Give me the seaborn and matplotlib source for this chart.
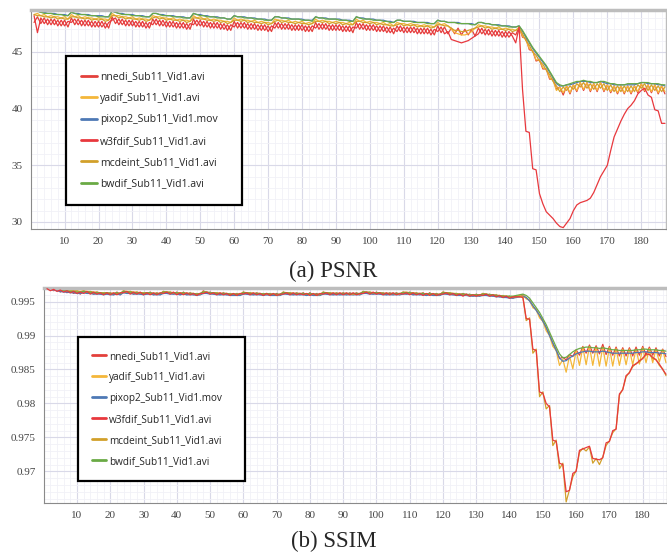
import numpy as np
import pandas as pd
import matplotlib
matplotlib.use("Agg")
import matplotlib.pyplot as plt
from matplotlib.lines import Line2D
from matplotlib.ticker import MultipleLocator, FuncFormatter
import seaborn as sns

frames = list(range(1, 188))
series_names = ["nnedi_Sub11_Vid1.avi", "yadif_Sub11_Vid1.avi", "pixop2_Sub11_Vid1.mov",
                "w3fdif_Sub11_Vid1.avi", "mcdeint_Sub11_Vid1.avi", "bwdif_Sub11_Vid1.avi"]
colors = ["#e3403b", "#f4b73a", "#4e79b5", "#e8383d", "#d2a02a", "#6aaa45"]
x_ticks = [10, 20, 30, 40, 50, 60, 70, 80, 90, 100, 110, 120, 130, 140, 150, 160, 170, 180]
captions = ["(a) PSNR", "(b) SSIM"]

# ---------------- PSNR (dB) ----------------
psnr_pixop2 = [
    48.6, 48.6, 48.5, 48.5, 48.4, 48.4, 48.4, 48.3, 48.3, 48.3, 48.2,
    48.5, 48.4, 48.4, 48.3, 48.3, 48.3, 48.2, 48.2, 48.2, 48.2, 48.1, 48.1,
    48.6, 48.5, 48.4, 48.4, 48.3, 48.3, 48.3, 48.2, 48.2, 48.2, 48.1, 48.1,
    48.4, 48.4, 48.3, 48.3, 48.2, 48.2, 48.2, 48.1, 48.1, 48.1, 48.0, 48.0,
    48.4, 48.3, 48.3, 48.2, 48.2, 48.1, 48.1, 48.1, 48.0, 48.0, 47.9, 47.9,
    48.2, 48.1, 48.1, 48.1, 48.0, 48.0, 48.0, 47.9, 47.9, 47.9, 47.8, 47.8,
    48.1, 48.1, 48.0, 48.0, 48.0, 47.9, 47.9, 47.9, 47.9, 47.8, 47.8, 47.8,
    48.1, 48.0, 48.0, 48.0, 47.9, 47.9, 47.9, 47.9, 47.8, 47.8, 47.8, 47.7,
    48.1, 48.0, 48.0, 47.9, 47.9, 47.9, 47.8, 47.8, 47.8, 47.7, 47.7, 47.6,
    47.8, 47.8, 47.7, 47.7, 47.7, 47.7, 47.6, 47.6, 47.6, 47.6, 47.5, 47.5,
    47.8, 47.7, 47.7, 47.6, 47.6, 47.6, 47.6, 47.5, 47.5, 47.5, 47.5, 47.4,
    47.6, 47.6, 47.5, 47.5, 47.4, 47.4, 47.4, 47.3, 47.3, 47.3, 47.2, 47.2,
    47.3, 46.8, 46.3, 45.8, 45.3, 44.9, 44.5, 44.1, 43.7, 43.2, 42.7, 42.2,
    42.0, 42.0, 42.1, 42.1, 42.2, 42.3, 42.4, 42.4, 42.4, 42.3, 42.3, 42.3,
    42.4, 42.3, 42.2, 42.2, 42.1, 42.1, 42.1, 42.1, 42.1, 42.1, 42.1, 42.2,
    42.3, 42.3, 42.2, 42.2, 42.2, 42.1, 42.1, 42.0]
psnr_bwdif = [
    48.6, 48.6, 48.5, 48.4, 48.4, 48.4, 48.3, 48.3, 48.3, 48.2, 48.2,
    48.5, 48.4, 48.3, 48.3, 48.3, 48.2, 48.2, 48.2, 48.1, 48.1, 48.1, 48.1,
    48.6, 48.5, 48.4, 48.3, 48.3, 48.3, 48.2, 48.2, 48.2, 48.1, 48.1, 48.1,
    48.4, 48.4, 48.3, 48.2, 48.2, 48.2, 48.1, 48.1, 48.1, 48.0, 48.0, 48.0,
    48.4, 48.3, 48.2, 48.2, 48.1, 48.1, 48.1, 48.0, 48.0, 48.0, 47.9, 47.9,
    48.2, 48.1, 48.1, 48.0, 48.0, 48.0, 47.9, 47.9, 47.9, 47.8, 47.8, 47.8,
    48.1, 48.1, 48.0, 48.0, 47.9, 47.9, 47.9, 47.9, 47.8, 47.8, 47.8, 47.7,
    48.1, 48.0, 48.0, 47.9, 47.9, 47.9, 47.9, 47.8, 47.8, 47.8, 47.7, 47.7,
    48.1, 48.0, 47.9, 47.9, 47.9, 47.8, 47.8, 47.8, 47.7, 47.7, 47.6, 47.6,
    47.8, 47.8, 47.7, 47.7, 47.7, 47.6, 47.6, 47.6, 47.6, 47.5, 47.5, 47.5,
    47.8, 47.7, 47.7, 47.6, 47.6, 47.6, 47.5, 47.5, 47.5, 47.5, 47.4, 47.4,
    47.6, 47.6, 47.5, 47.5, 47.4, 47.4, 47.3, 47.3, 47.3, 47.2, 47.2, 47.2,
    47.3, 46.9, 46.4, 45.9, 45.4, 45.0, 44.6, 44.2, 43.8, 43.3, 42.8, 42.3,
    42.1, 42.0, 42.1, 42.2, 42.3, 42.4, 42.4, 42.5, 42.4, 42.4, 42.3, 42.3,
    42.4, 42.4, 42.3, 42.2, 42.2, 42.1, 42.1, 42.1, 42.2, 42.2, 42.2, 42.2,
    42.3, 42.3, 42.3, 42.2, 42.2, 42.2, 42.1, 42.1]
psnr_yadif = [
    48.3, 48.4, 48.2, 48.3, 48.1, 48.2, 48.1, 48.1, 48.0, 48.1, 47.9,
    48.3, 48.1, 48.2, 48.0, 48.1, 48.0, 48.0, 47.9, 48.0, 47.9, 47.9, 47.8,
    48.4, 48.2, 48.2, 48.1, 48.1, 48.0, 48.1, 47.9, 48.0, 47.9, 47.9, 47.8,
    48.2, 48.1, 48.1, 48.0, 48.0, 47.9, 48.0, 47.8, 47.9, 47.8, 47.8, 47.7,
    48.2, 48.0, 48.1, 47.9, 48.0, 47.8, 47.9, 47.8, 47.8, 47.7, 47.7, 47.6,
    48.0, 47.8, 47.9, 47.8, 47.8, 47.7, 47.8, 47.6, 47.7, 47.6, 47.6, 47.5,
    47.9, 47.8, 47.8, 47.7, 47.8, 47.6, 47.7, 47.6, 47.7, 47.5, 47.6, 47.5,
    47.9, 47.7, 47.8, 47.7, 47.7, 47.6, 47.7, 47.6, 47.6, 47.5, 47.6, 47.4,
    47.9, 47.7, 47.8, 47.6, 47.7, 47.6, 47.6, 47.5, 47.6, 47.4, 47.5, 47.3,
    47.6, 47.5, 47.5, 47.4, 47.5, 47.4, 47.4, 47.3, 47.4, 47.3, 47.3, 47.2,
    47.6, 47.4, 47.5, 47.3, 47.0, 46.7, 46.6, 46.5, 46.5, 46.6, 46.8, 47.1,
    47.4, 47.3, 47.3, 47.2, 47.2, 47.1, 47.2, 47.0, 47.1, 47.0, 47.0, 46.9,
    47.2, 46.4, 46.1, 45.3, 45.1, 44.3, 44.3, 43.6, 43.5, 42.7, 42.5, 41.6,
    41.9, 41.4, 42.0, 41.4, 42.1, 41.6, 42.3, 41.7, 42.3, 41.6, 42.2, 41.6,
    42.3, 41.6, 42.1, 41.5, 42.0, 41.4, 42.0, 41.4, 42.0, 41.4, 42.0, 41.5,
    42.2, 41.6, 42.1, 41.5, 42.1, 41.4, 42.0, 41.5]
psnr_mcdeint = [
    48.3, 48.2, 48.2, 48.1, 48.1, 48.0, 48.1, 47.9, 48.0, 47.9, 47.9,
    48.1, 48.1, 48.0, 48.0, 47.9, 48.0, 47.8, 47.9, 47.8, 47.9, 47.7, 47.8,
    48.2, 48.2, 48.0, 48.1, 47.9, 48.0, 47.9, 47.9, 47.8, 47.9, 47.7, 47.8,
    48.0, 48.1, 47.9, 48.0, 47.8, 47.9, 47.8, 47.8, 47.7, 47.8, 47.6, 47.7,
    48.0, 48.0, 47.9, 47.9, 47.8, 47.8, 47.7, 47.8, 47.6, 47.7, 47.5, 47.6,
    47.8, 47.8, 47.7, 47.8, 47.6, 47.7, 47.6, 47.6, 47.5, 47.6, 47.4, 47.5,
    47.7, 47.8, 47.6, 47.7, 47.6, 47.6, 47.5, 47.6, 47.5, 47.5, 47.4, 47.5,
    47.7, 47.7, 47.6, 47.7, 47.5, 47.6, 47.5, 47.6, 47.4, 47.5, 47.4, 47.4,
    47.7, 47.7, 47.6, 47.6, 47.5, 47.6, 47.4, 47.5, 47.4, 47.4, 47.3, 47.3,
    47.4, 47.5, 47.3, 47.4, 47.3, 47.4, 47.2, 47.3, 47.2, 47.3, 47.1, 47.2,
    47.4, 47.4, 47.3, 47.3, 47.1, 46.9, 46.9, 46.8, 46.8, 46.9, 47.0, 47.1,
    47.2, 47.3, 47.1, 47.2, 47.0, 47.1, 47.0, 47.0, 46.9, 47.0, 46.8, 46.9,
    47.1, 46.6, 46.0, 45.6, 45.0, 44.7, 44.2, 43.9, 43.4, 43.0, 42.4, 42.0,
    41.5, 41.9, 41.6, 42.0, 41.7, 42.2, 41.9, 42.3, 41.8, 42.2, 41.7, 42.2,
    41.8, 42.2, 41.6, 42.1, 41.5, 42.0, 41.5, 42.0, 41.5, 42.0, 41.5, 42.1,
    41.8, 42.2, 41.6, 42.1, 41.6, 42.0, 41.5, 41.9]
psnr_nnedi = [
    47.6, 48.1, 47.5, 48.0, 47.4, 47.9, 47.4, 47.8, 47.3, 47.8, 47.2,
    48.0, 47.4, 47.9, 47.3, 47.8, 47.3, 47.7, 47.2, 47.7, 47.2, 47.6, 47.1,
    48.1, 47.5, 47.9, 47.4, 47.8, 47.3, 47.8, 47.2, 47.7, 47.2, 47.6, 47.1,
    47.9, 47.4, 47.8, 47.3, 47.7, 47.2, 47.7, 47.1, 47.6, 47.1, 47.5, 47.0,
    47.9, 47.3, 47.8, 47.2, 47.7, 47.1, 47.6, 47.1, 47.5, 47.0, 47.4, 46.9,
    47.7, 47.1, 47.6, 47.1, 47.5, 47.0, 47.5, 46.9, 47.4, 46.9, 47.3, 46.8,
    47.6, 47.1, 47.5, 47.0, 47.5, 46.9, 47.4, 46.9, 47.4, 46.8, 47.3, 46.8,
    47.6, 47.0, 47.5, 47.0, 47.4, 46.9, 47.4, 46.9, 47.3, 46.8, 47.3, 46.7,
    47.6, 47.0, 47.5, 46.9, 47.4, 46.9, 47.3, 46.8, 47.3, 46.7, 47.2, 46.6,
    47.3, 46.8, 47.2, 46.7, 47.2, 46.7, 47.1, 46.6, 47.1, 46.6, 47.0, 46.5,
    47.3, 46.7, 47.2, 46.6, 47.1, 46.6, 47.1, 46.5, 47.0, 46.5, 47.0, 46.4,
    47.1, 46.6, 47.0, 46.5, 46.9, 46.4, 46.9, 46.3, 46.8, 46.3, 46.7, 46.5,
    47.2, 46.3, 46.2, 45.2, 45.1, 44.2, 44.3, 43.5, 43.5, 42.6, 42.6, 41.7,
    41.9, 41.2, 42.0, 41.3, 42.1, 41.5, 42.3, 41.6, 42.3, 41.5, 42.2, 41.5,
    42.3, 41.5, 42.1, 41.4, 42.0, 41.3, 42.0, 41.3, 42.0, 41.3, 42.0, 41.4,
    42.2, 41.5, 42.1, 41.4, 42.1, 41.3, 42.0, 41.3]
psnr_w3fdif = [
    48.2, 46.7, 48.0, 47.5, 47.9, 47.4, 47.9, 47.3, 47.8, 47.3, 47.7,
    47.6, 47.9, 47.4, 47.8, 47.3, 47.8, 47.2, 47.7, 47.2, 47.7, 47.1, 47.6,
    47.8, 48.0, 47.4, 47.9, 47.3, 47.8, 47.3, 47.7, 47.2, 47.7, 47.1, 47.6,
    47.4, 47.9, 47.3, 47.8, 47.2, 47.7, 47.2, 47.6, 47.1, 47.6, 47.0, 47.5,
    47.4, 47.8, 47.3, 47.7, 47.2, 47.6, 47.1, 47.6, 47.0, 47.5, 46.9, 47.4,
    47.2, 47.6, 47.1, 47.6, 47.0, 47.5, 47.0, 47.4, 46.9, 47.4, 46.8, 47.3,
    47.1, 47.6, 47.0, 47.5, 47.0, 47.4, 46.9, 47.4, 46.9, 47.3, 46.8, 47.3,
    47.1, 47.5, 47.0, 47.5, 46.9, 47.4, 46.9, 47.4, 46.8, 47.3, 46.8, 47.2,
    47.1, 47.5, 47.0, 47.4, 46.9, 47.4, 46.8, 47.3, 46.8, 47.2, 46.7, 47.1,
    46.8, 47.3, 46.7, 47.2, 46.7, 47.2, 46.6, 47.1, 46.6, 47.1, 46.5, 47.0,
    46.8, 47.2, 46.6, 46.8, 46.1, 46.0, 45.9, 45.8, 45.9, 46.0, 46.2, 46.4,
    46.6, 47.1, 46.5, 47.0, 46.4, 46.9, 46.4, 46.8, 46.3, 46.8, 46.4, 45.8,
    47.2, 41.7, 38.0, 37.9, 34.7, 34.6, 32.5, 31.6, 30.9, 30.6, 30.3, 29.9,
    29.6, 29.5, 29.9, 30.3, 31.0, 31.5, 31.7, 31.8, 31.9, 32.1, 32.6, 33.3,
    34.0, 34.5, 35.0, 36.3, 37.5, 38.2, 38.9, 39.5, 40.0, 40.3, 40.7, 41.3,
    41.6, 41.8, 41.2, 41.0, 39.9, 39.8, 38.7, 38.7]

# ---------------- SSIM ----------------
ssim_pixop2 = [
    0.9969, 0.9968, 0.9967, 0.9966, 0.9965, 0.9964, 0.9964, 0.9963, 0.9963, 0.9962, 0.9962,
    0.9963, 0.9962, 0.9962, 0.9961, 0.9961, 0.9961, 0.9960, 0.9961, 0.9960, 0.9960, 0.9961, 0.9960,
    0.9963, 0.9962, 0.9962, 0.9961, 0.9961, 0.9961, 0.9960, 0.9961, 0.9961, 0.9960, 0.9960, 0.9960,
    0.9962, 0.9962, 0.9961, 0.9961, 0.9961, 0.9960, 0.9961, 0.9960, 0.9960, 0.9960, 0.9959, 0.9960,
    0.9962, 0.9962, 0.9961, 0.9961, 0.9960, 0.9960, 0.9960, 0.9960, 0.9959, 0.9959, 0.9959, 0.9959,
    0.9961, 0.9961, 0.9960, 0.9960, 0.9960, 0.9960, 0.9959, 0.9960, 0.9959, 0.9959, 0.9959, 0.9959,
    0.9961, 0.9961, 0.9960, 0.9960, 0.9960, 0.9960, 0.9960, 0.9959, 0.9960, 0.9959, 0.9959, 0.9959,
    0.9961, 0.9961, 0.9960, 0.9960, 0.9960, 0.9960, 0.9960, 0.9960, 0.9960, 0.9960, 0.9960, 0.9960,
    0.9962, 0.9962, 0.9961, 0.9961, 0.9961, 0.9961, 0.9960, 0.9960, 0.9960, 0.9960, 0.9960, 0.9960,
    0.9961, 0.9961, 0.9961, 0.9960, 0.9960, 0.9960, 0.9960, 0.9959, 0.9960, 0.9959, 0.9959, 0.9959,
    0.9961, 0.9961, 0.9960, 0.9960, 0.9959, 0.9959, 0.9959, 0.9959, 0.9958, 0.9958, 0.9958, 0.9958,
    0.9959, 0.9959, 0.9958, 0.9958, 0.9957, 0.9957, 0.9956, 0.9956, 0.9955, 0.9955, 0.9956, 0.9957,
    0.9958, 0.9956, 0.9951, 0.9944, 0.9937, 0.9930, 0.9921, 0.9912, 0.9900, 0.9889, 0.9878, 0.9867,
    0.9862, 0.9863, 0.9867, 0.9870, 0.9873, 0.9875, 0.9876, 0.9877, 0.9877, 0.9876, 0.9876, 0.9876,
    0.9877, 0.9876, 0.9875, 0.9874, 0.9874, 0.9874, 0.9874, 0.9874, 0.9874, 0.9874, 0.9875, 0.9875,
    0.9876, 0.9876, 0.9875, 0.9875, 0.9875, 0.9874, 0.9874, 0.9873]
ssim_bwdif = [
    0.9970, 0.9969, 0.9968, 0.9968, 0.9967, 0.9966, 0.9966, 0.9965, 0.9965, 0.9964, 0.9964,
    0.9965, 0.9964, 0.9964, 0.9963, 0.9963, 0.9963, 0.9962, 0.9963, 0.9962, 0.9962, 0.9963, 0.9962,
    0.9965, 0.9964, 0.9964, 0.9963, 0.9963, 0.9963, 0.9962, 0.9963, 0.9963, 0.9962, 0.9962, 0.9962,
    0.9964, 0.9964, 0.9963, 0.9963, 0.9963, 0.9962, 0.9963, 0.9962, 0.9962, 0.9962, 0.9961, 0.9962,
    0.9964, 0.9964, 0.9963, 0.9963, 0.9962, 0.9962, 0.9962, 0.9962, 0.9961, 0.9961, 0.9961, 0.9961,
    0.9963, 0.9963, 0.9962, 0.9962, 0.9962, 0.9962, 0.9961, 0.9962, 0.9961, 0.9961, 0.9961, 0.9961,
    0.9963, 0.9963, 0.9962, 0.9962, 0.9962, 0.9962, 0.9962, 0.9961, 0.9962, 0.9961, 0.9961, 0.9961,
    0.9963, 0.9963, 0.9962, 0.9962, 0.9962, 0.9962, 0.9962, 0.9962, 0.9962, 0.9962, 0.9962, 0.9962,
    0.9964, 0.9964, 0.9963, 0.9963, 0.9963, 0.9963, 0.9962, 0.9962, 0.9962, 0.9962, 0.9962, 0.9962,
    0.9963, 0.9963, 0.9963, 0.9962, 0.9962, 0.9962, 0.9962, 0.9961, 0.9962, 0.9961, 0.9961, 0.9961,
    0.9963, 0.9963, 0.9962, 0.9962, 0.9961, 0.9961, 0.9961, 0.9961, 0.9960, 0.9960, 0.9960, 0.9960,
    0.9961, 0.9961, 0.9960, 0.9960, 0.9959, 0.9959, 0.9958, 0.9958, 0.9958, 0.9958, 0.9959, 0.9960,
    0.9961, 0.9959, 0.9955, 0.9948, 0.9941, 0.9934, 0.9925, 0.9916, 0.9905, 0.9894, 0.9883, 0.9873,
    0.9867, 0.9868, 0.9872, 0.9876, 0.9879, 0.9881, 0.9882, 0.9883, 0.9883, 0.9882, 0.9882, 0.9881,
    0.9882, 0.9881, 0.9880, 0.9879, 0.9879, 0.9878, 0.9878, 0.9878, 0.9878, 0.9878, 0.9879, 0.9879,
    0.9880, 0.9880, 0.9879, 0.9879, 0.9879, 0.9878, 0.9878, 0.9877]
ssim_nnedi = [
    0.9968, 0.9969, 0.9966, 0.9968, 0.9964, 0.9967, 0.9963, 0.9966, 0.9962, 0.9965, 0.9961,
    0.9966, 0.9962, 0.9964, 0.9961, 0.9964, 0.9961, 0.9963, 0.9961, 0.9963, 0.9960, 0.9964, 0.9960,
    0.9966, 0.9962, 0.9965, 0.9961, 0.9964, 0.9961, 0.9963, 0.9961, 0.9964, 0.9960, 0.9963, 0.9960,
    0.9965, 0.9962, 0.9964, 0.9961, 0.9964, 0.9960, 0.9964, 0.9960, 0.9963, 0.9960, 0.9962, 0.9960,
    0.9966, 0.9962, 0.9964, 0.9961, 0.9963, 0.9960, 0.9963, 0.9960, 0.9962, 0.9959, 0.9962, 0.9959,
    0.9964, 0.9961, 0.9963, 0.9960, 0.9963, 0.9960, 0.9962, 0.9960, 0.9962, 0.9959, 0.9962, 0.9959,
    0.9964, 0.9961, 0.9963, 0.9960, 0.9963, 0.9960, 0.9963, 0.9959, 0.9963, 0.9959, 0.9962, 0.9959,
    0.9964, 0.9961, 0.9963, 0.9960, 0.9963, 0.9960, 0.9963, 0.9960, 0.9963, 0.9960, 0.9963, 0.9960,
    0.9965, 0.9962, 0.9964, 0.9961, 0.9964, 0.9961, 0.9963, 0.9960, 0.9963, 0.9960, 0.9963, 0.9960,
    0.9964, 0.9961, 0.9964, 0.9960, 0.9963, 0.9960, 0.9963, 0.9959, 0.9963, 0.9959, 0.9962, 0.9959,
    0.9964, 0.9961, 0.9963, 0.9960, 0.9962, 0.9959, 0.9962, 0.9959, 0.9961, 0.9958, 0.9961, 0.9958,
    0.9962, 0.9959, 0.9961, 0.9958, 0.9960, 0.9957, 0.9959, 0.9956, 0.9958, 0.9955, 0.9958, 0.9957,
    0.9960, 0.9955, 0.9952, 0.9943, 0.9938, 0.9929, 0.9922, 0.9911, 0.9901, 0.9888, 0.9879, 0.9866,
    0.9868, 0.9864, 0.9872, 0.9869, 0.9879, 0.9871, 0.9884, 0.9874, 0.9886, 0.9874, 0.9885, 0.9873,
    0.9887, 0.9872, 0.9884, 0.9871, 0.9883, 0.9870, 0.9882, 0.9870, 0.9882, 0.9870, 0.9883, 0.9871,
    0.9884, 0.9872, 0.9883, 0.9871, 0.9882, 0.9870, 0.9880, 0.9869]
ssim_yadif = [
    0.9971, 0.9970, 0.9970, 0.9969, 0.9968, 0.9967, 0.9967, 0.9966, 0.9965, 0.9965, 0.9964,
    0.9965, 0.9964, 0.9964, 0.9963, 0.9963, 0.9963, 0.9962, 0.9962, 0.9962, 0.9962, 0.9962, 0.9961,
    0.9965, 0.9964, 0.9964, 0.9963, 0.9963, 0.9963, 0.9962, 0.9962, 0.9962, 0.9962, 0.9962, 0.9961,
    0.9964, 0.9964, 0.9963, 0.9963, 0.9962, 0.9962, 0.9962, 0.9962, 0.9961, 0.9961, 0.9961, 0.9961,
    0.9964, 0.9963, 0.9963, 0.9962, 0.9962, 0.9962, 0.9961, 0.9961, 0.9961, 0.9961, 0.9960, 0.9960,
    0.9963, 0.9962, 0.9962, 0.9962, 0.9961, 0.9961, 0.9961, 0.9961, 0.9960, 0.9960, 0.9960, 0.9960,
    0.9963, 0.9962, 0.9962, 0.9962, 0.9961, 0.9961, 0.9961, 0.9961, 0.9961, 0.9960, 0.9960, 0.9960,
    0.9963, 0.9962, 0.9962, 0.9962, 0.9962, 0.9961, 0.9961, 0.9961, 0.9961, 0.9961, 0.9961, 0.9961,
    0.9964, 0.9963, 0.9963, 0.9963, 0.9962, 0.9962, 0.9962, 0.9962, 0.9961, 0.9961, 0.9961, 0.9961,
    0.9963, 0.9963, 0.9962, 0.9962, 0.9962, 0.9961, 0.9961, 0.9961, 0.9961, 0.9960, 0.9960, 0.9960,
    0.9963, 0.9962, 0.9962, 0.9961, 0.9961, 0.9960, 0.9960, 0.9960, 0.9960, 0.9959, 0.9959, 0.9959,
    0.9961, 0.9960, 0.9960, 0.9959, 0.9959, 0.9958, 0.9958, 0.9957, 0.9957, 0.9957, 0.9958, 0.9959,
    0.9960, 0.9954, 0.9952, 0.9941, 0.9938, 0.9926, 0.9921, 0.9907, 0.9900, 0.9884, 0.9878, 0.9856,
    0.9865, 0.9846, 0.9870, 0.9851, 0.9878, 0.9856, 0.9883, 0.9857, 0.9884, 0.9856, 0.9883, 0.9855,
    0.9883, 0.9855, 0.9882, 0.9855, 0.9881, 0.9856, 0.9880, 0.9857, 0.9880, 0.9857, 0.9880, 0.9858,
    0.9882, 0.9860, 0.9881, 0.9860, 0.9880, 0.9861, 0.9879, 0.9860]
ssim_w3fdif = [
    0.9969, 0.9966, 0.9968, 0.9965, 0.9967, 0.9964, 0.9966, 0.9963, 0.9965, 0.9962, 0.9964,
    0.9962, 0.9965, 0.9961, 0.9964, 0.9961, 0.9963, 0.9960, 0.9963, 0.9960, 0.9963, 0.9960, 0.9963,
    0.9963, 0.9965, 0.9961, 0.9964, 0.9961, 0.9964, 0.9960, 0.9963, 0.9960, 0.9963, 0.9960, 0.9963,
    0.9962, 0.9964, 0.9961, 0.9964, 0.9960, 0.9963, 0.9960, 0.9963, 0.9960, 0.9962, 0.9959, 0.9962,
    0.9962, 0.9964, 0.9961, 0.9963, 0.9960, 0.9963, 0.9960, 0.9962, 0.9959, 0.9962, 0.9959, 0.9962,
    0.9961, 0.9963, 0.9960, 0.9963, 0.9960, 0.9962, 0.9959, 0.9962, 0.9959, 0.9962, 0.9959, 0.9961,
    0.9961, 0.9963, 0.9960, 0.9963, 0.9960, 0.9962, 0.9960, 0.9962, 0.9959, 0.9962, 0.9959, 0.9962,
    0.9961, 0.9963, 0.9960, 0.9963, 0.9960, 0.9963, 0.9960, 0.9963, 0.9960, 0.9963, 0.9960, 0.9962,
    0.9962, 0.9964, 0.9961, 0.9964, 0.9961, 0.9963, 0.9960, 0.9963, 0.9960, 0.9963, 0.9960, 0.9962,
    0.9961, 0.9963, 0.9960, 0.9963, 0.9960, 0.9962, 0.9959, 0.9962, 0.9959, 0.9962, 0.9959, 0.9961,
    0.9961, 0.9963, 0.9960, 0.9962, 0.9959, 0.9961, 0.9958, 0.9961, 0.9958, 0.9960, 0.9958, 0.9960,
    0.9959, 0.9961, 0.9958, 0.9960, 0.9957, 0.9959, 0.9956, 0.9958, 0.9955, 0.9957, 0.9957, 0.9957,
    0.9956, 0.9925, 0.9924, 0.9880, 0.9878, 0.9817, 0.9815, 0.9800, 0.9795, 0.9746, 0.9744, 0.9712,
    0.9710, 0.9670, 0.9672, 0.9697, 0.9700, 0.9731, 0.9733, 0.9735, 0.9737, 0.9719, 0.9718, 0.9717,
    0.9720, 0.9742, 0.9744, 0.9760, 0.9762, 0.9814, 0.9820, 0.9841, 0.9845, 0.9856, 0.9858, 0.9863,
    0.9866, 0.9873, 0.9872, 0.9868, 0.9864, 0.9858, 0.9850, 0.9843]
ssim_mcdeint = [
    0.9971, 0.9971, 0.9970, 0.9970, 0.9969, 0.9968, 0.9968, 0.9967, 0.9966, 0.9966, 0.9965,
    0.9966, 0.9965, 0.9965, 0.9964, 0.9964, 0.9963, 0.9963, 0.9963, 0.9962, 0.9962, 0.9962, 0.9962,
    0.9966, 0.9965, 0.9965, 0.9964, 0.9964, 0.9963, 0.9963, 0.9963, 0.9962, 0.9962, 0.9962, 0.9962,
    0.9965, 0.9964, 0.9964, 0.9963, 0.9963, 0.9963, 0.9962, 0.9962, 0.9962, 0.9962, 0.9961, 0.9961,
    0.9965, 0.9964, 0.9963, 0.9963, 0.9963, 0.9962, 0.9962, 0.9962, 0.9961, 0.9961, 0.9961, 0.9961,
    0.9964, 0.9963, 0.9963, 0.9962, 0.9962, 0.9962, 0.9961, 0.9961, 0.9961, 0.9961, 0.9960, 0.9960,
    0.9964, 0.9963, 0.9963, 0.9962, 0.9962, 0.9962, 0.9961, 0.9961, 0.9961, 0.9961, 0.9960, 0.9960,
    0.9964, 0.9963, 0.9963, 0.9962, 0.9962, 0.9962, 0.9962, 0.9962, 0.9961, 0.9961, 0.9961, 0.9961,
    0.9965, 0.9964, 0.9964, 0.9963, 0.9963, 0.9963, 0.9962, 0.9962, 0.9962, 0.9962, 0.9961, 0.9961,
    0.9964, 0.9964, 0.9963, 0.9963, 0.9962, 0.9962, 0.9962, 0.9961, 0.9961, 0.9961, 0.9961, 0.9960,
    0.9964, 0.9963, 0.9963, 0.9962, 0.9962, 0.9961, 0.9961, 0.9960, 0.9960, 0.9960, 0.9959, 0.9959,
    0.9962, 0.9961, 0.9960, 0.9960, 0.9959, 0.9959, 0.9958, 0.9958, 0.9957, 0.9957, 0.9957, 0.9958,
    0.9957, 0.9922, 0.9926, 0.9874, 0.9880, 0.9810, 0.9817, 0.9792, 0.9797, 0.9738, 0.9746, 0.9704,
    0.9712, 0.9655, 0.9673, 0.9692, 0.9701, 0.9728, 0.9734, 0.9730, 0.9736, 0.9712, 0.9719, 0.9710,
    0.9721, 0.9738, 0.9745, 0.9757, 0.9763, 0.9812, 0.9821, 0.9839, 0.9846, 0.9854, 0.9859, 0.9861,
    0.9867, 0.9871, 0.9873, 0.9866, 0.9865, 0.9856, 0.9851, 0.9841]

psnr_series = [psnr_nnedi, psnr_yadif, psnr_pixop2, psnr_w3fdif, psnr_mcdeint, psnr_bwdif]
ssim_series = [ssim_nnedi, ssim_yadif, ssim_pixop2, ssim_w3fdif, ssim_mcdeint, ssim_bwdif]


def long_frame(series_list):
    parts = []
    for name, vals in zip(series_names, series_list):
        n = min(len(vals), len(frames))
        parts.append(pd.DataFrame({"frame": frames[:n], "value": vals[:n], "series": name}))
    return pd.concat(parts, ignore_index=True)


df_psnr = long_frame(psnr_series)
df_ssim = long_frame(ssim_series)

sns.set_style("white")
plt.rcParams["font.family"] = ["Liberation Serif", "DejaVu Serif"]

W, H = 667, 554
fig = plt.figure(figsize=(W / 100, H / 100), dpi=100)


def px_axes(left, top, right, bottom):
    return fig.add_axes([left / W, 1 - bottom / H, (right - left) / W, (bottom - top) / H])


ax1 = px_axes(31, 10, 666, 229)
ax2 = px_axes(44, 288, 667, 503)
palette = dict(zip(series_names, colors))

for ax, df in ((ax1, df_psnr), (ax2, df_ssim)):
    sns.lineplot(data=df, x="frame", y="value", hue="series", hue_order=series_names,
                 palette=palette, linewidth=0.9, legend=False, ax=ax,
                 estimator=None, errorbar=None, sort=False)
    # w3fdif drawn above mcdeint so the red drop stays on top
    if len(ax.lines) >= 6:
        ax.lines[3].set_zorder(2.6)
    ax.set_xlabel("")
    ax.set_ylabel("")
    ax.set_xlim(0.1, 187.3)
    ax.set_xticks(x_ticks)
    ax.xaxis.set_minor_locator(MultipleLocator(2))
    ax.set_axisbelow(True)
    ax.grid(which="major", color="#d9d9e8", linewidth=0.8)
    ax.grid(which="minor", color="#f1f1f7", linewidth=0.6)
    ax.tick_params(which="major", direction="out", length=4, width=0.8, color="#8a8a8a",
                   labelsize=8, labelcolor="#444444", pad=2)
    ax.tick_params(which="minor", direction="out", length=2, width=0.6, color="#8a8a8a")
    for side in ("left", "bottom"):
        ax.spines[side].set_color("#8a8a8a")
        ax.spines[side].set_linewidth(0.8)
    ax.spines["top"].set_color("#bdbdbd")
    ax.spines["top"].set_linewidth(2.5)
    ax.spines["right"].set_color("#bdbdbd")
    ax.spines["right"].set_linewidth(1.0)

ax1.set_ylim(29.38, 48.7)
ax1.yaxis.set_major_locator(MultipleLocator(5))
ax1.yaxis.set_minor_locator(MultipleLocator(1))

ax2.set_ylim(0.96534, 0.9970)
ax2.set_yticks([0.97, 0.975, 0.98, 0.985, 0.99, 0.995])
ax2.yaxis.set_minor_locator(MultipleLocator(0.001))
ax2.yaxis.set_major_formatter(FuncFormatter(lambda v, p: "%g" % round(v, 4)))

handles = [Line2D([0], [0], color=c, lw=2.0) for c in colors]


def add_legend(ax, x0, ytop, w, fs, spacing, pad):
    leg = ax.legend(handles, series_names, loc="upper left",
                    bbox_to_anchor=(x0, ytop, w, 0), mode="expand", borderaxespad=0,
                    prop={"family": ["Open Sans", "DejaVu Sans"], "size": fs},
                    handlelength=1.45, handletextpad=0.3, borderpad=pad,
                    labelspacing=spacing, fancybox=False, framealpha=1)
    fr = leg.get_frame()
    fr.set_edgecolor("black")
    fr.set_linewidth(1.6)
    return leg


add_legend(ax1, 35 / 635, (229 - 56) / 219, 176 / 635, 7.5, 1.0, 1.48)
add_legend(ax2, 34 / 623, (503 - 337) / 215, 167 / 623, 7.2, 1.0, 1.38)

fig.text(0.5, 1 - 271 / H, captions[0], ha="center", va="center", fontsize=16.5,
         family=["Liberation Serif", "DejaVu Serif"])
fig.text(0.5, 1 - 541 / H, captions[1], ha="center", va="center", fontsize=16.5,
         family=["Liberation Serif", "DejaVu Serif"])

fig.savefig("out.png", dpi=100)
